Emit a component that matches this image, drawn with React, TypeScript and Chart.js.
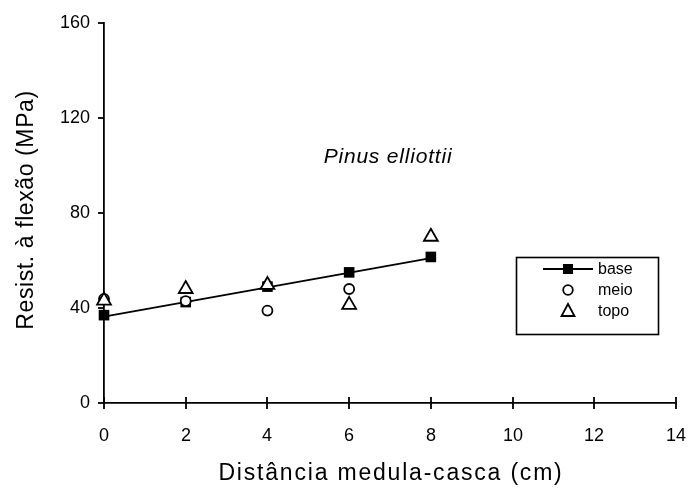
import { useEffect, useRef } from 'react';
import { Chart, registerables } from 'chart.js';

Chart.register(...registerables);

// Distance from pith to bark (cm) and bending strength (MPa) per stem position
const distances = [0, 2, 4, 6, 8];
const baseValues = [37.0, 42.5, 49.0, 55.0, 61.5];
const meioValues: (number | null)[] = [43.8, 42.9, 38.9, 48.0, null];
const topoValues = [43.1, 48.0, 49.7, 41.3, 70.0];

// Fitted line for the base series (end points)
const trendX = [0, 8];
const trendY = [36.4, 61.0];

const xTickValues = [0, 2, 4, 6, 8, 10, 12, 14];
const yTickValues = [0, 40, 80, 120, 160];

const speciesName = 'Pinus elliottii';
const xTitle = 'Distância medula-casca (cm)';
const yTitle = 'Resist. à flexão (MPa)';
const legendNames = ['base', 'meio', 'topo'];

const FONT = '"Liberation Sans", Arial, Helvetica, sans-serif';

const toPoints = (xs: number[], ys: (number | null)[]) =>
  xs
    .map((x, i) => ({ x, y: ys[i] }))
    .filter((p) => p.y !== null) as { x: number; y: number }[];

const drawMarker = (ctx: CanvasRenderingContext2D, kind: string, x: number, y: number) => {
  ctx.save();
  ctx.lineWidth = 1.8;
  ctx.strokeStyle = '#000';
  if (kind === 'rect') {
    ctx.fillStyle = '#000';
    ctx.fillRect(x - 5, y - 5, 10, 10);
  } else if (kind === 'circle') {
    ctx.fillStyle = '#fff';
    ctx.beginPath();
    ctx.arc(x, y, 4.8, 0, Math.PI * 2);
    ctx.fill();
    ctx.stroke();
  } else {
    ctx.fillStyle = '#fff';
    ctx.beginPath();
    ctx.moveTo(x, y - 7);
    ctx.lineTo(x + 6.5, y + 5);
    ctx.lineTo(x - 6.5, y + 5);
    ctx.closePath();
    ctx.fill();
    ctx.stroke();
  }
  ctx.restore();
};

const decorations = {
  id: 'decorations',
  afterDraw(chart: any) {
    const { ctx, chartArea, scales } = chart;
    const xs = scales.x;
    const ys = scales.y;
    ctx.save();
    ctx.strokeStyle = '#000';
    ctx.fillStyle = '#000';
    ctx.lineWidth = 1.8;

    // tick marks and labels: x ticks cross the axis, y ticks point outward
    ctx.font = `18px ${FONT}`;
    ctx.textAlign = 'center';
    ctx.textBaseline = 'middle';
    xTickValues.forEach((v) => {
      const px = Math.round(xs.getPixelForValue(v));
      ctx.beginPath();
      ctx.moveTo(px, chartArea.bottom - 6);
      ctx.lineTo(px, chartArea.bottom + 6);
      ctx.stroke();
      ctx.fillText(String(v), px, chartArea.bottom + 33);
    });
    ctx.textAlign = 'right';
    yTickValues.forEach((v) => {
      const py = Math.round(ys.getPixelForValue(v));
      ctx.beginPath();
      ctx.moveTo(chartArea.left - 6, py);
      ctx.lineTo(chartArea.left, py);
      ctx.stroke();
      ctx.fillText(String(v), chartArea.left - 14, py);
    });

    // axis titles
    ctx.font = `23px ${FONT}`;
    ctx.textAlign = 'center';
    (ctx as any).letterSpacing = '1.8px';
    ctx.fillText(xTitle, (chartArea.left + chartArea.right) / 2 + 1, 474);
    (ctx as any).letterSpacing = '0.6px';
    ctx.save();
    ctx.translate(27, (chartArea.top + chartArea.bottom) / 2 - 3);
    ctx.rotate(-Math.PI / 2);
    ctx.fillText(yTitle, 0, 0);
    ctx.restore();

    // species label
    ctx.font = `italic 21px ${FONT}`;
    (ctx as any).letterSpacing = '0.8px';
    ctx.fillText(speciesName, 388, 157);
    (ctx as any).letterSpacing = '0px';

    // legend box
    const lx = 516;
    const ly = 257;
    const lw = 142;
    const lh = 77;
    ctx.lineWidth = 1.6;
    ctx.strokeRect(lx + 0.5, ly + 0.5, lw, lh);
    ctx.font = `16px ${FONT}`;
    ctx.textAlign = 'left';
    const rowY = [269, 290, 311];
    const markX = 568;
    const kinds = ['rect', 'circle', 'triangle'];
    legendNames.forEach((name, i) => {
      if (i === 0) {
        ctx.lineWidth = 1.8;
        ctx.beginPath();
        ctx.moveTo(543, rowY[i]);
        ctx.lineTo(593, rowY[i]);
        ctx.stroke();
      }
      drawMarker(ctx, kinds[i], markX, rowY[i]);
      ctx.fillStyle = '#000';
      ctx.fillText(name, 598, rowY[i] + 1);
    });
    ctx.restore();
  },
};

export default function App() {
  const canvasRef = useRef<HTMLCanvasElement | null>(null);

  useEffect(() => {
    const canvas = canvasRef.current;
    if (!canvas) return;
    const chart = new Chart(canvas, {
      type: 'scatter',
      data: {
        datasets: [
          {
            label: legendNames[2],
            data: toPoints(distances, topoValues),
            pointStyle: 'triangle',
            pointRadius: 8,
            pointBorderWidth: 1.8,
            pointBackgroundColor: '#fff',
            pointBorderColor: '#000',
            order: 0,
          },
          {
            label: legendNames[1],
            data: toPoints(distances, meioValues),
            pointStyle: 'circle',
            pointRadius: 5,
            pointBorderWidth: 1.8,
            pointBackgroundColor: '#fff',
            pointBorderColor: '#000',
            order: 1,
          },
          {
            label: legendNames[0],
            data: toPoints(distances, baseValues),
            pointStyle: 'rect',
            pointRadius: 7.5,
            pointBorderWidth: 0,
            pointBackgroundColor: '#000',
            pointBorderColor: '#000',
            order: 2,
          },
          {
            label: 'ajuste',
            data: toPoints(trendX, trendY),
            showLine: true,
            borderColor: '#000',
            borderWidth: 1.8,
            pointRadius: 0,
            order: 3,
          },
        ],
      },
      options: {
        responsive: false,
        animation: false,
        events: [],
        clip: false,
        layout: { padding: { top: 23, right: 13, left: 0, bottom: 0 } },
        plugins: {
          legend: { display: false },
          tooltip: { enabled: false },
          title: { display: false },
        },
        scales: {
          x: {
            type: 'linear',
            min: 0,
            max: 14,
            afterFit: (scale: any) => {
              scale.height = 91;
            },
            ticks: { display: false },
            grid: { display: false, drawTicks: false },
            border: { display: true, color: '#000', width: 1.8 },
          },
          y: {
            type: 'linear',
            min: 0,
            max: 160,
            afterFit: (scale: any) => {
              scale.width = 104;
            },
            ticks: { display: false },
            grid: { display: false, drawTicks: false },
            border: { display: true, color: '#000', width: 1.8 },
          },
        },
      },
      plugins: [decorations],
    });
    return () => chart.destroy();
  }, []);

  return (
    <div style={{ position: 'absolute', left: 0, top: 0, width: 689, height: 494, background: '#fff' }}>
      <canvas ref={canvasRef} width={689} height={494} style={{ display: 'block' }} />
    </div>
  );
}
